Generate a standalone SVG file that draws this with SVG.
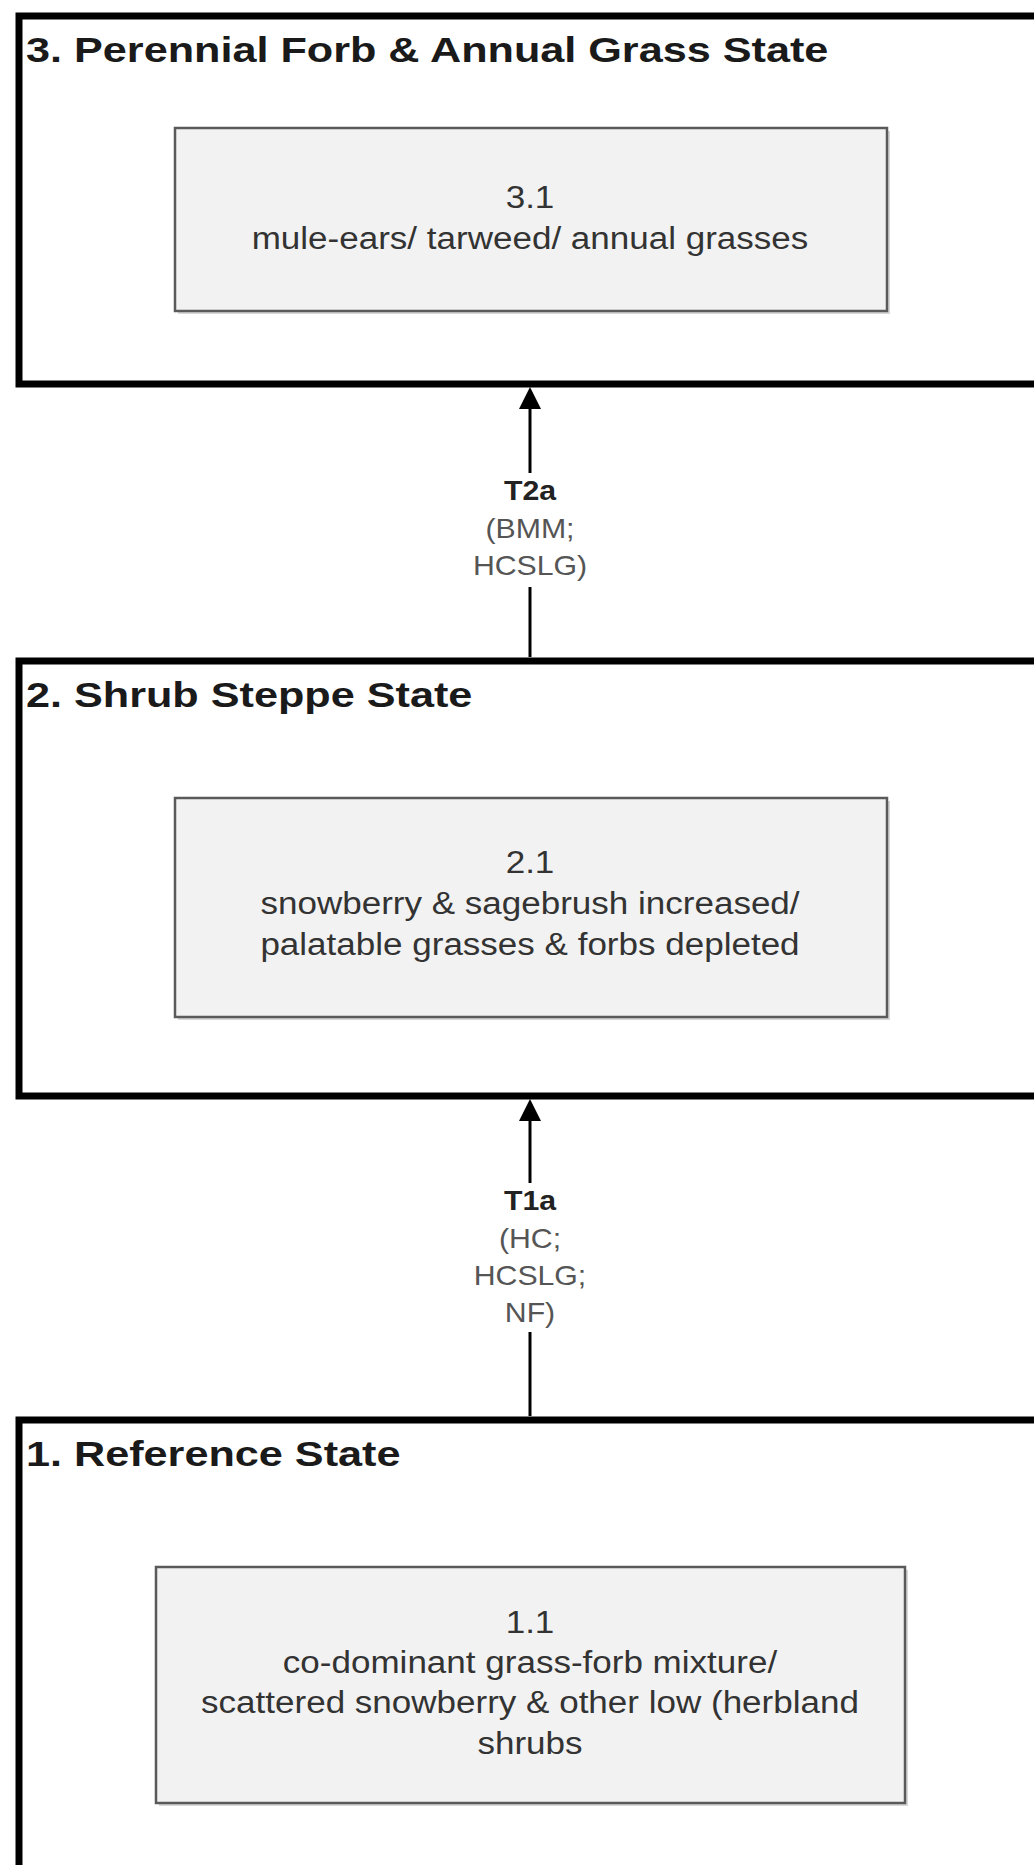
<svg xmlns="http://www.w3.org/2000/svg" width="1034" height="1865" viewBox="0 0 1034 1865">
<defs>
<style>
.state{fill:#ffffff;stroke:#000000;stroke-width:7}
.shadow{fill:#d8d8d8;stroke:none}
.phase{fill:#f2f2f2;stroke:#5a5a5a;stroke-width:2.5}
.title{font-family:"Liberation Sans",Arial,sans-serif;font-weight:bold;font-size:36px;fill:#1a1a1a}
.ptext{font-family:"Liberation Sans",Arial,sans-serif;font-size:31px;fill:#333333;text-anchor:middle}
.lbl{font-family:"Liberation Sans",Arial,sans-serif;font-size:28px;fill:#555555;text-anchor:middle}
.lblb{font-family:"Liberation Sans",Arial,sans-serif;font-size:28px;font-weight:bold;fill:#222222;text-anchor:middle}
.conn{stroke:#000000;stroke-width:3;fill:none}
</style>
</defs>
<rect x="0" y="0" width="1034" height="1865" fill="#ffffff"/>

<g id="state3">
<rect class="state" x="19" y="16" width="1100" height="368"/>
<text class="title" x="26" y="62" transform="matrix(1.2,0,0,1,-5.2,0)">3. Perennial Forb &amp; Annual Grass State</text>
</g>
<g id="phase3-1">
<rect class="shadow" x="178" y="131" width="712" height="183"/>
<rect class="phase" x="175" y="128" width="712" height="183"/>
<g transform="matrix(1.13,0,0,1,-68.9,0)">
<text class="ptext" x="530" y="208">3.1</text>
<text class="ptext" x="530" y="249">mule-ears/ tarweed/ annual grasses</text>
</g>
</g>

<g id="state2">
<rect class="state" x="19" y="661" width="1100" height="435"/>
<text class="title" x="26" y="707" transform="matrix(1.2,0,0,1,-5.2,0)">2. Shrub Steppe State</text>
</g>
<g id="phase2-1">
<rect class="shadow" x="178" y="801" width="712" height="219"/>
<rect class="phase" x="175" y="798" width="712" height="219"/>
<g transform="matrix(1.13,0,0,1,-68.9,0)">
<text class="ptext" x="530" y="873">2.1</text>
<text class="ptext" x="530" y="914">snowberry &amp; sagebrush increased/</text>
<text class="ptext" x="530" y="955">palatable grasses &amp; forbs depleted</text>
</g>
</g>

<g id="state1">
<rect class="state" x="19" y="1420" width="1100" height="500"/>
<text class="title" x="26" y="1466" transform="matrix(1.2,0,0,1,-5.2,0)">1. Reference State</text>
</g>
<g id="phase1-1">
<rect class="shadow" x="159" y="1570" width="749" height="236"/>
<rect class="phase" x="156" y="1567" width="749" height="236"/>
<g transform="matrix(1.13,0,0,1,-68.9,0)">
<text class="ptext" x="530" y="1633">1.1</text>
<text class="ptext" x="530" y="1673">co-dominant grass-forb mixture/</text>
<text class="ptext" x="530" y="1713">scattered snowberry &amp; other low (herbland</text>
<text class="ptext" x="530" y="1754">shrubs</text>
</g>
</g>

<g id="connectors">
<line class="conn" x1="530" y1="657" x2="530" y2="587"/>
<line class="conn" x1="530" y1="473" x2="530" y2="405"/>
<path d="M519,409 L530,387 L541,409 Z" fill="#000"/>
<g transform="matrix(1.08,0,0,1,-42.4,0)">
<text class="lblb" x="530" y="500">T2a</text>
<text class="lbl" x="530" y="538">(BMM;</text>
<text class="lbl" x="530" y="575">HCSLG)</text>
</g>
<line class="conn" x1="530" y1="1416" x2="530" y2="1332"/>
<line class="conn" x1="530" y1="1183" x2="530" y2="1117"/>
<path d="M519,1121 L530,1099 L541,1121 Z" fill="#000"/>
<g transform="matrix(1.08,0,0,1,-42.4,0)">
<text class="lblb" x="530" y="1210">T1a</text>
<text class="lbl" x="530" y="1248">(HC;</text>
<text class="lbl" x="530" y="1285">HCSLG;</text>
<text class="lbl" x="530" y="1322">NF)</text>
</g>
</g>
</svg>
